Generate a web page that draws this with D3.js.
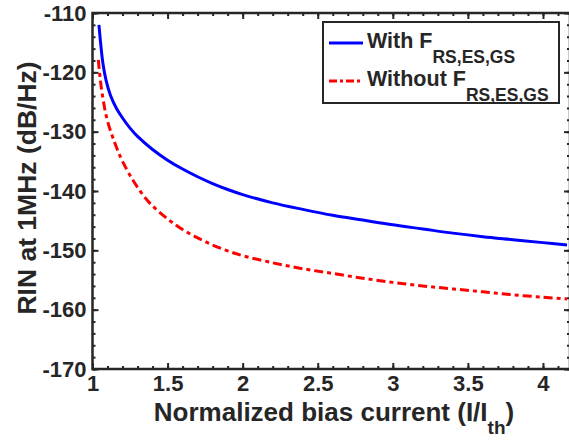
<!DOCTYPE html>
<html>
<head>
<meta charset="utf-8">
<script src="https://cdn.jsdelivr.net/npm/d3@7"></script>
<style>
  body { margin: 0; background: #fff; }
  svg text { font-family: "Liberation Sans", Arial, sans-serif; font-weight: bold; fill: #262626; }
</style>
</head>
<body>
<div id="chart"></div>
<script>
const WIDTH = 569, HEIGHT = 442;
const LEFT = 92.5, TOP = 13, RIGHT = 570, BOTTOM = 369;

// normalized bias current (I/Ith) and RIN (dB/Hz)
const withX = [1.043, 1.055, 1.07, 1.09, 1.12, 1.16, 1.2, 1.25, 1.3, 1.4, 1.5, 1.6, 1.7, 1.8, 1.9, 2.0, 2.2, 2.4, 2.6, 2.8, 3.0, 3.2, 3.4, 3.6, 3.8, 4.0, 4.16];
const withY = [-112.0, -115.3, -118.6, -121.3, -123.9, -126.1, -127.7, -129.4, -130.8, -133.0, -134.8, -136.3, -137.6, -138.75, -139.75, -140.6, -142.0, -143.1, -144.1, -144.9, -145.7, -146.4, -147.1, -147.7, -148.2, -148.7, -149.1];
const withoutX = [1.039, 1.05, 1.07, 1.1, 1.15, 1.2, 1.28, 1.38, 1.5, 1.6, 1.7, 1.8, 1.9, 2.0, 2.2, 2.4, 2.6, 2.8, 3.0, 3.2, 3.4, 3.6, 3.8, 4.0, 4.16];
const withoutY = [-117.9, -120.8, -124.5, -128.2, -132.0, -135.0, -138.6, -142.0, -144.7, -146.5, -147.9, -149.1, -150.1, -150.9, -152.1, -153.1, -153.9, -154.7, -155.4, -156.0, -156.5, -157.0, -157.5, -157.9, -158.2];

const xTicks = [1, 1.5, 2, 2.5, 3, 3.5, 4];
const yTicks = [-170, -160, -150, -140, -130, -120, -110];
const legendLabels = ["With F", "Without F"];
const legendSub = "RS,ES,GS";

const svg = d3.select("#chart")
    .append("svg")
    .attr("width", WIDTH)
    .attr("height", HEIGHT);

const x = d3.scaleLinear().domain([1, 4.18]).range([LEFT, RIGHT]);
const y = d3.scaleLinear().domain([-170, -110]).range([BOTTOM, TOP]);

const xMinor = d3.range(10, 42).map(d => d / 10);
const yMinor = d3.range(-170, -109, 2);

function styleAxis(g) {
    g.select(".domain").remove();
    g.selectAll("line").attr("stroke", "#262626").attr("stroke-width", 2);
    g.selectAll("text").style("font-size", "22px").attr("fill", "#262626");
}

// minor ticks, pointing inward
svg.append("g").attr("transform", `translate(0,${BOTTOM})`)
    .call(d3.axisBottom(x).tickValues(xMinor).tickSize(-3).tickFormat("")).call(styleAxis);
svg.append("g").attr("transform", `translate(0,${TOP})`)
    .call(d3.axisTop(x).tickValues(xMinor).tickSize(-3).tickFormat("")).call(styleAxis);
svg.append("g").attr("transform", `translate(${LEFT},0)`)
    .call(d3.axisLeft(y).tickValues(yMinor).tickSize(-3).tickFormat("")).call(styleAxis);
svg.append("g").attr("transform", `translate(${RIGHT},0)`)
    .call(d3.axisRight(y).tickValues(yMinor).tickSize(-3).tickFormat("")).call(styleAxis);

// major ticks + labels
svg.append("g").attr("transform", `translate(0,${BOTTOM})`)
    .call(d3.axisBottom(x).tickValues(xTicks).tickSize(-6).tickPadding(6).tickFormat(d3.format("")))
    .call(styleAxis);
svg.append("g").attr("transform", `translate(0,${TOP})`)
    .call(d3.axisTop(x).tickValues(xTicks).tickSize(-6).tickFormat("")).call(styleAxis);
svg.append("g").attr("transform", `translate(${LEFT},0)`)
    .call(d3.axisLeft(y).tickValues(yTicks).tickSize(-6).tickPadding(6).tickFormat(d => String(d)))
    .call(styleAxis);
svg.append("g").attr("transform", `translate(${RIGHT},0)`)
    .call(d3.axisRight(y).tickValues(yTicks).tickSize(-6).tickFormat("")).call(styleAxis);

// box
svg.append("rect")
    .attr("x", LEFT).attr("y", TOP)
    .attr("width", RIGHT - LEFT).attr("height", BOTTOM - TOP)
    .attr("fill", "none").attr("stroke", "#262626").attr("stroke-width", 2.5);

const line = d3.line().x(d => x(d[0])).y(d => y(d[1])).curve(d3.curveCatmullRom.alpha(0.5));

svg.append("path")
    .datum(withoutX.map((v, i) => [v, withoutY[i]]))
    .attr("d", line)
    .attr("fill", "none").attr("stroke", "#ff0000").attr("stroke-width", 3)
    .attr("stroke-dasharray", "9,4,4,4");

svg.append("path")
    .datum(withX.map((v, i) => [v, withY[i]]))
    .attr("d", line)
    .attr("fill", "none").attr("stroke", "#0000ff").attr("stroke-width", 3);

// axis labels
const xl = svg.append("text")
    .attr("x", 334).attr("y", 421)
    .attr("text-anchor", "middle")
    .style("font-size", "26px");
xl.append("tspan").text("Normalized bias current (I/I");
xl.append("tspan").attr("dy", 13).style("font-size", "19px").text("th");
xl.append("tspan").attr("dy", -13).text(")");

svg.append("text")
    .attr("transform", `translate(36,188) rotate(-90)`)
    .attr("text-anchor", "middle")
    .style("font-size", "26.5px")
    .text("RIN at 1MHz (dB/Hz)");

// legend
const legend = svg.append("g");
legend.append("rect")
    .attr("x", 323).attr("y", 22).attr("width", 236).attr("height", 81)
    .attr("fill", "#fff").attr("stroke", "#262626").attr("stroke-width", 2);

const legendColors = ["#0000ff", "#ff0000"];
const legendDash = [null, "8,3,3,3"];
legendLabels.forEach((label, i) => {
    const ly = 43 + i * 38;
    legend.append("line")
        .attr("x1", 329).attr("x2", 363).attr("y1", ly).attr("y2", ly)
        .attr("stroke", legendColors[i]).attr("stroke-width", 3)
        .attr("stroke-dasharray", legendDash[i]);
    const t = legend.append("text").attr("x", 367).attr("y", ly + 5).style("font-size", "21.5px");
    t.append("tspan").text(label);
    t.append("tspan").attr("dy", 15).style("font-size", "17.5px").text(legendSub);
});
</script>
</body>
</html>
